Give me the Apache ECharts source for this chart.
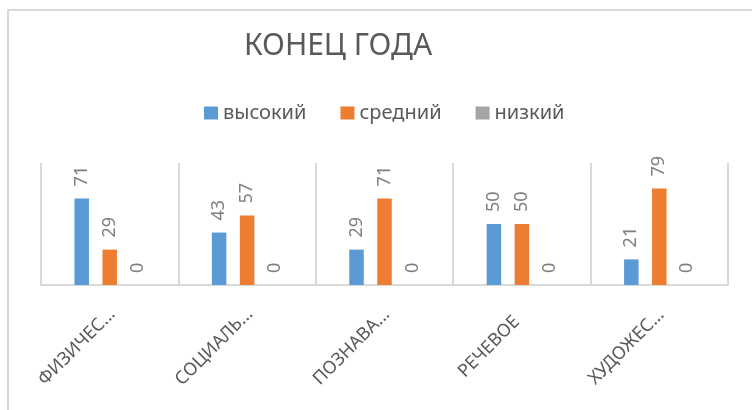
<!DOCTYPE html>
<html>
<head>
<meta charset="utf-8">
<title>Конец года</title>
<script src="https://cdn.jsdelivr.net/npm/echarts@6/dist/echarts.min.js"></script>
<style>
  html, body { margin: 0; padding: 0; background: #fff; }
  #chart { width: 752px; height: 410px; }
</style>
</head>
<body>
<div id="chart"></div>
<script>
var categories = ['ФИЗИЧЕС...', 'СОЦИАЛЬ...', 'ПОЗНАВА...', 'РЕЧЕВОЕ', 'ХУДОЖЕС...']
var seriesNames = ['высокий', 'средний', 'низкий']
var highValues = [71, 43, 29, 50, 21]
var midValues = [29, 57, 71, 50, 79]
var lowValues = [0, 0, 0, 0, 0]
var colors = ['#5b9bd5', '#ed7d31', '#a5a5a5']

var FONT = '"Noto Sans", "Open Sans", sans-serif'

function barSeries(name, values, color) {
  return {
    name: name,
    type: 'bar',
    data: values,
    barWidth: 14.5,
    barGap: '93%',
    itemStyle: { color: color },
    label: {
      show: true,
      position: 'top',
      distance: 12,
      rotate: 90,
      align: 'left',
      verticalAlign: 'middle',
      color: '#7f7f7f',
      fontSize: 18,
      fontFamily: FONT
    }
  }
}

var chart = echarts.init(document.getElementById('chart'))

chart.setOption({
  animation: false,
  textStyle: { fontFamily: FONT },
  graphic: [
    {
      // chart frame, runs off the right and bottom edges like the original
      type: 'rect',
      z: -10,
      shape: { x: 8, y: 10, width: 800, height: 500 },
      style: { fill: 'none', stroke: '#d9d9d9', lineWidth: 2 }
    }
  ],
  title: {
    text: 'КОНЕЦ ГОДА',
    left: 333,
    top: 26,
    textAlign: 'center',
    textStyle: {
      color: '#595959',
      fontSize: 30,
      fontWeight: 'normal',
      fontFamily: FONT
    }
  },
  legend: {
    data: seriesNames,
    left: 199,
    top: 98,
    itemWidth: 14,
    itemHeight: 13,
    itemGap: 34,
    icon: 'rect',
    textStyle: { color: '#595959', fontSize: 20, fontFamily: FONT }
  },
  grid: { left: 41, right: 24, top: 163, bottom: 125 },
  xAxis: {
    type: 'category',
    data: categories,
    axisLine: { lineStyle: { color: '#d9d9d9', width: 2 } },
    axisTick: { show: false },
    splitLine: { show: true, lineStyle: { color: '#d9d9d9', width: 2 } },
    axisLabel: {
      interval: 0,
      rotate: 45,
      align: 'center',
      verticalAlign: 'middle',
      margin: 29,
      padding: [0, 93, 0, 0],
      color: '#595959',
      fontSize: 18,
      fontFamily: FONT
    }
  },
  yAxis: {
    type: 'value',
    min: 0,
    max: 100,
    show: false,
    splitLine: { show: false }
  },
  series: [
    barSeries(seriesNames[0], highValues, colors[0]),
    barSeries(seriesNames[1], midValues, colors[1]),
    barSeries(seriesNames[2], lowValues, colors[2])
  ]
})
</script>
</body>
</html>
